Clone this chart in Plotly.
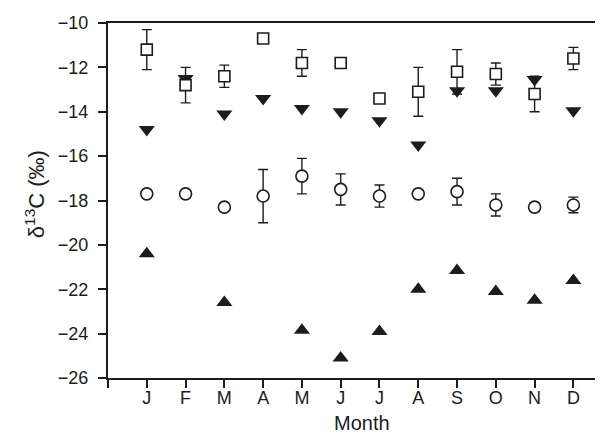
import plotly.graph_objects as go

months = ["J", "F", "M", "A", "M", "J", "J", "A", "S", "O", "N", "D"]
month_idx = list(range(1, 13))

squares = [-11.2, -12.8, -12.4, -10.7, -11.8, -11.8, -13.4, -13.1, -12.2, -12.3, -13.2, -11.6]
squares_err = [0.9, 0.8, 0.5, 0.0, 0.6, 0.0, 0.0, 1.1, 1.0, 0.5, 0.8, 0.5]

tri_down = [-14.8, -12.5, -14.1, -13.4, -13.85, -14.0, -14.4, -15.5, -13.05, -13.05, -12.55, -13.95]

circles = [-17.7, -17.7, -18.3, -17.8, -16.9, -17.5, -17.8, -17.7, -17.6, -18.2, -18.3, -18.2]
circles_err = [0.0, 0.0, 0.15, 1.2, 0.8, 0.7, 0.5, 0.0, 0.6, 0.5, 0.2, 0.35]

tri_up = [-20.4, -22.6, -23.85, -25.1, -23.9, -22.0, -21.15, -22.1, -22.5, -21.6]
tri_up_x = [1, 3, 5, 6, 7, 8, 9, 10, 11, 12]

y_ticks = [-10, -12, -14, -16, -18, -20, -22, -24, -26]

INK = "#1c1c1c"

fig = go.Figure()

fig.add_trace(go.Scatter(
    x=tri_up_x, y=tri_up, mode="markers",
    marker=dict(symbol="triangle-up", size=14, color=INK),
    showlegend=False))

fig.add_trace(go.Scatter(
    x=month_idx, y=tri_down, mode="markers",
    marker=dict(symbol="triangle-down", size=14, color=INK),
    showlegend=False))

fig.add_trace(go.Scatter(
    x=month_idx, y=squares, mode="markers",
    marker=dict(symbol="square", size=11, color="white", line=dict(color=INK, width=1.6)),
    error_y=dict(type="data", array=squares_err, visible=True, color=INK, thickness=1.4, width=5),
    showlegend=False))

fig.add_trace(go.Scatter(
    x=month_idx, y=circles, mode="markers",
    marker=dict(symbol="circle", size=12, color="white", line=dict(color=INK, width=1.6)),
    error_y=dict(type="data", array=circles_err, visible=True, color=INK, thickness=1.4, width=5),
    showlegend=False))

fig.add_annotation(
    text="Month", xref="paper", yref="paper", x=0.505, y=-0.128,
    xanchor="center", yanchor="middle", showarrow=False,
    font=dict(size=20, color=INK),
)

fig.add_annotation(
    text="\u03b4<sup>13</sup>C (\u2030)", xref="paper", yref="paper", x=-0.145, y=0.518,
    xanchor="center", yanchor="middle", showarrow=False, textangle=-90,
    font=dict(size=22, color=INK),
)

fig.update_layout(
    width=603, height=432,
    margin=dict(l=100, r=0, t=15, b=62),
    paper_bgcolor="white", plot_bgcolor="white",
    font=dict(family="Liberation Sans, Arial, sans-serif", color=INK, size=17),
    xaxis=dict(
        range=[0, 12.97],
        tickvals=[0] + month_idx, ticktext=[""] + months,
        ticks="outside", ticklen=8, tickwidth=1.6, tickcolor=INK,
        showline=True, linecolor=INK, linewidth=2, mirror=True,
        showgrid=False, zeroline=False,
        tickfont=dict(size=18, color=INK),
        ticklabelstandoff=-6,
    ),
    yaxis=dict(
        range=[-26, -10],
        tickvals=y_ticks, ticktext=["\u2212" + str(-v) for v in y_ticks],
        ticks="outside", ticklen=8, tickwidth=1.6, tickcolor=INK,
        showline=True, linecolor=INK, linewidth=2,
        showgrid=False, zeroline=False,
        tickfont=dict(size=18, color=INK),
        ticklabelstandoff=6,
    ),
)

fig.write_html("out.html")
